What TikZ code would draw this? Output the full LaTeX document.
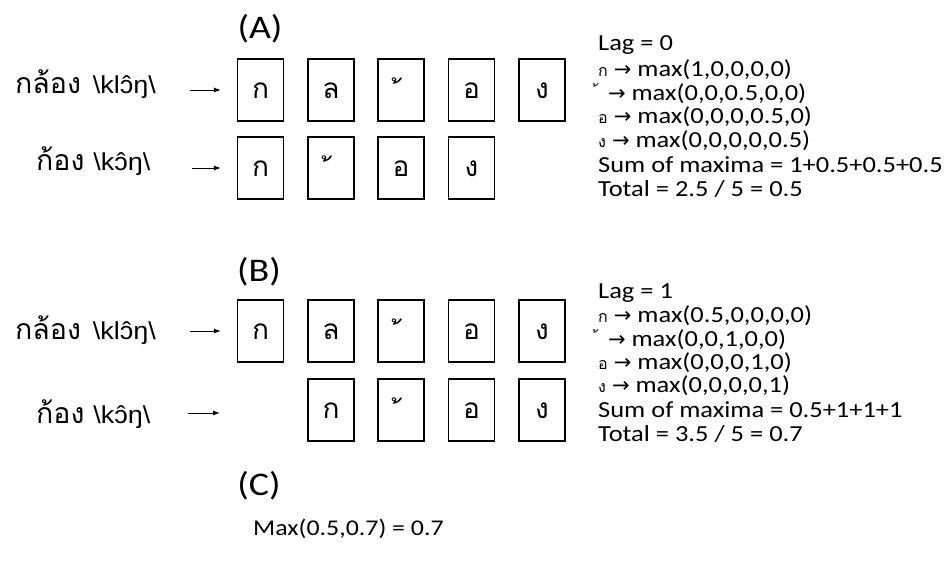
\documentclass[tikz,border=0pt]{standalone}
\usepackage{fontspec}
\setmainfont[FakeStretch=1.15]{Carlito}
\newfontfamily\thai[Script=Thai]{Loma}
\newfontfamily\arial[FakeStretch=1.1]{Liberation Sans}
\newfontfamily\dv{DejaVu Sans}
\usetikzlibrary{arrows.meta}
\tikzset{
  cbox/.style={draw, line width=1.2pt, minimum width=46pt, minimum height=62pt, inner sep=0pt,
               text height=16pt, text depth=0pt, font=\thai\fontsize{28}{28}\selectfont},
  plabel/.style={inner sep=0pt, font=\fontsize{33}{33}\selectfont},
  word/.style={inner sep=0pt, anchor=west, font=\fontsize{24.5}{24.5}\selectfont},
  rtxt/.style={inner sep=0pt, anchor=west, font=\fontsize{23}{23}\selectfont},
  arr/.style={-{Latex[length=7pt,width=5pt]}, line width=0.9pt},
}
\newcommand{\thc}[1]{{\thai\fontsize{16}{16}\selectfont #1}}
\newcommand{\thw}[1]{{\thai\fontsize{28.5}{28.5}\selectfont #1}}
\newcommand{\tonemk}{\raisebox{-9pt}{้}}
\newcommand{\rarr}{{\dv\fontsize{21}{21}\selectfont →}}
\begin{document}
\begin{tikzpicture}[x=1pt,y=-1pt]
\useasboundingbox (0,0) rectangle (952,560);
% section labels
\node[plabel] (A) at (260,29) {(A)};
\node[plabel] (B) at (259,272) {(B)};
\node[plabel] (C) at (259,486) {(C)};
\node[inner sep=0pt, anchor=west, font=\fontsize{22.5}{22.5}\selectfont] (M) at (253,529) {Max(0.5,0.7) = 0.7};
% left words
\node[word] (wa1) at (15,84) {\thw{กล้อง}\hspace{12pt}\arial\textbackslash klɔ̂ŋ\textbackslash};
\node[word] (wa2) at (36,161) {\thw{ก้อง}\hspace{9pt}\arial\textbackslash kɔ̂ŋ\textbackslash};
\node[word] (wb1) at (15,330) {\thw{กล้อง}\hspace{12pt}\arial\textbackslash klɔ̂ŋ\textbackslash};
\node[word] (wb2) at (36,414) {\thw{ก้อง}\hspace{9pt}\arial\textbackslash kɔ̂ŋ\textbackslash};
% boxes A row 1
\node[cbox] (a11) at (260.5,90) {ก};
\node[cbox] (a12) at (331,90) {ล};
\node[cbox] (a13) at (401,90) {\tonemk};
\node[cbox] (a14) at (471.5,90) {อ};
\node[cbox] (a15) at (542,90) {ง};
% boxes A row 2
\node[cbox] (a21) at (260.5,168) {ก};
\node[cbox] (a22) at (331,168) {\tonemk};
\node[cbox] (a23) at (401,168) {อ};
\node[cbox] (a24) at (471.5,168) {ง};
% boxes B row 1
\node[cbox] (b11) at (260.5,331) {ก};
\node[cbox] (b12) at (331,331) {ล};
\node[cbox] (b13) at (401,331) {\tonemk};
\node[cbox] (b14) at (471.5,331) {อ};
\node[cbox] (b15) at (542,331) {ง};
% boxes B row 2
\node[cbox] (b22) at (331,410) {ก};
\node[cbox] (b23) at (401,410) {\tonemk};
\node[cbox] (b24) at (471.5,410) {อ};
\node[cbox] (b25) at (542,410) {ง};
% arrows
\coordinate (sa1) at (190,90);
\coordinate (sa2) at (192,168);
\coordinate (sb1) at (190,331);
\coordinate (sb2) at (188,413);
\coordinate (eb2) at (220,413);
\draw[arr] (sa1) -- ([xshift=-16pt]a11.west);
\draw[arr] (sa2) -- ([xshift=-16pt]a21.west);
\draw[arr] (sb1) -- ([xshift=-16pt]b11.west);
\draw[arr] (sb2) -- (eb2);
% right text A
\node[rtxt] (ra0) at (598,45) {Lag = 0};
\node[rtxt] (ra1) at (598,70) {\thc{ก} \rarr\ max(1,0,0,0,0)};
\node[rtxt] (ra2) at (598,94) {\thc{้}\, \rarr\ max(0,0,0.5,0,0)};
\node[rtxt] (ra3) at (598,117) {\thc{อ} \rarr\ max(0,0,0,0.5,0)};
\node[rtxt] (ra4) at (598,141) {\thc{ง} \rarr\ max(0,0,0,0,0.5)};
\node[rtxt] (ra5) at (598,165) {Sum of maxima = 1+0.5+0.5+0.5};
\node[rtxt] (ra6) at (598,189) {Total = 2.5 / 5 = 0.5};
% right text B
\node[rtxt] (rb0) at (598,293) {Lag = 1};
\node[rtxt] (rb1) at (598,316) {\thc{ก} \rarr\ max(0.5,0,0,0,0)};
\node[rtxt] (rb2) at (598,340) {\thc{้}\, \rarr\ max(0,0,1,0,0)};
\node[rtxt] (rb3) at (598,363) {\thc{อ} \rarr\ max(0,0,0,1,0)};
\node[rtxt] (rb4) at (598,386) {\thc{ง} \rarr\ max(0,0,0,0,1)};
\node[rtxt] (rb5) at (598,410) {Sum of maxima = 0.5+1+1+1};
\node[rtxt] (rb6) at (598,434) {Total = 3.5 / 5 = 0.7};
\end{tikzpicture}
\end{document}
